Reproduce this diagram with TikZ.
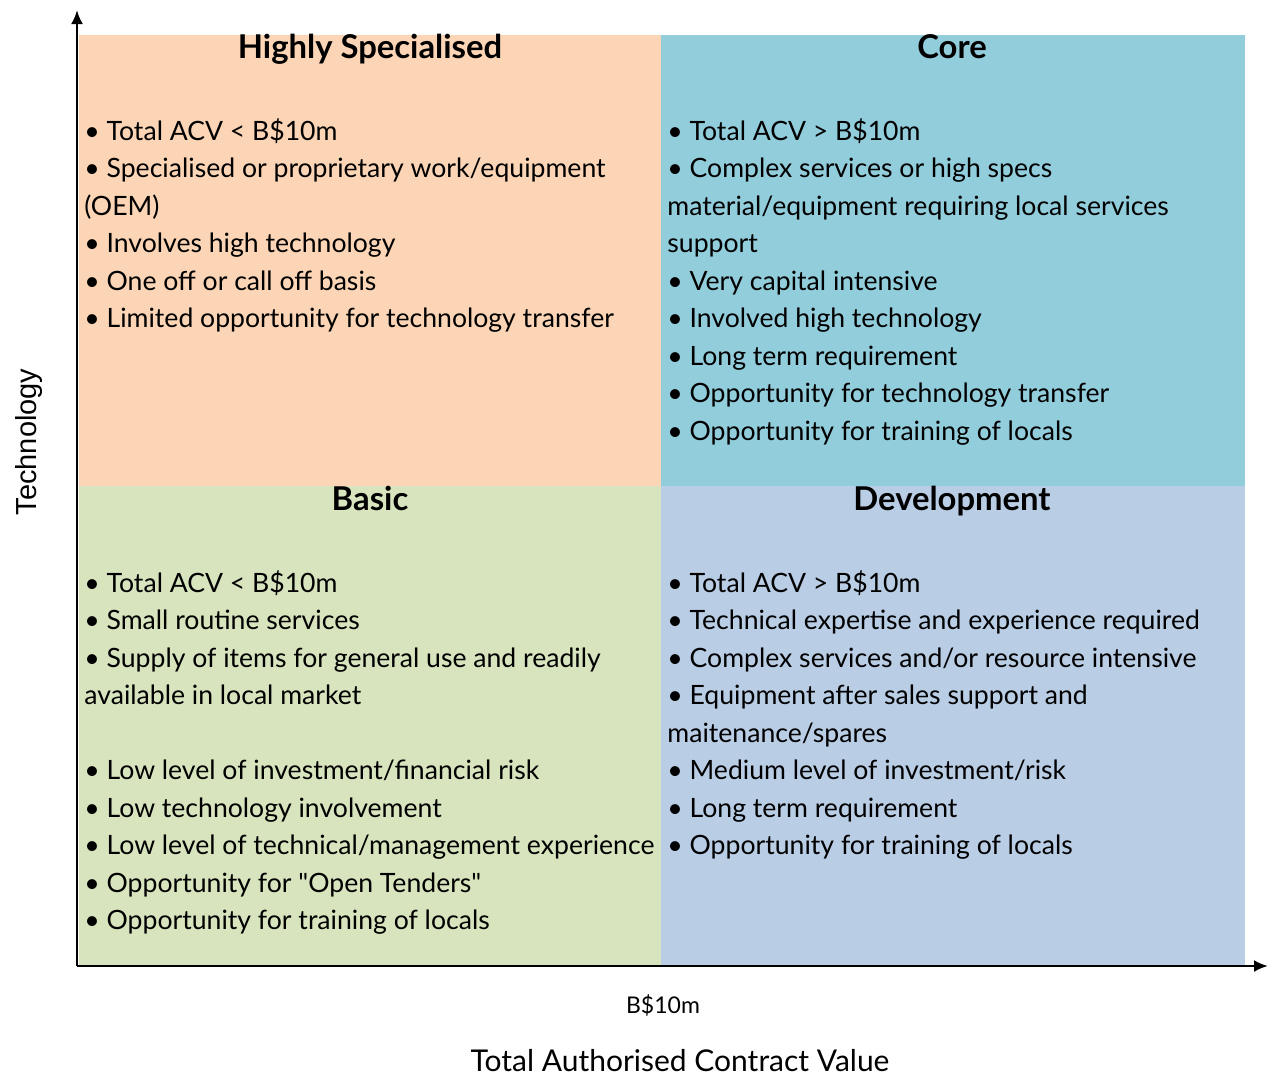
\documentclass[tikz,border=0pt]{standalone}
\usepackage{fontspec}
\setmainfont{Lato}
\newfontfamily\axisfont{Liberation Sans}
\usepackage{tikz}
\usetikzlibrary{positioning,arrows.meta}

\definecolor{hspec}{HTML}{FBD5B5}
\definecolor{core}{HTML}{92CDDC}
\definecolor{basic}{HTML}{D7E4BD}
\definecolor{devel}{HTML}{B9CDE5}

\begin{document}
\begin{tikzpicture}[
      x=0.5pt, y=-0.5pt,
      title/.style={anchor=base, inner sep=0pt, font=\fontsize{16.4}{18}\selectfont\bfseries},
      items/.style={anchor=base west, inner sep=0pt, align=left, font=\fontsize{13.3}{18.75}\selectfont},
      axis/.style={line width=1.3pt, -{Latex[length=7pt,width=6pt]}}
    ]
      \def\xl{79}
      \def\xm{661}
      \def\xr{1245}
      \def\yt{35}
      \def\ym{486}
      \def\yb{966}

      \useasboundingbox (0,0) rectangle (1273,1077);

      % Quadrants
      \fill[hspec] (\xl,\yt) rectangle (\xm,\ym);
      \fill[core] (\xm,\yt) rectangle (\xr,\ym);
      \fill[basic] (\xl,\ym) rectangle (\xm,\yb);

      \node[title] (hs) at (370,58) {Highly Specialised};
      \node[title] (co) at (952,58) {Core};
      \node[title] (ba) at (370,510) {Basic};

      % lists: base anchor sits on the last line
      \node[items] (hslist) at (84,327.5) {%
        \textbullet{} Total ACV < B\$10m\\
        \textbullet{} Specialised or proprietary work/equipment\\
        (OEM)\\
        \textbullet{} Involves high technology\\
        \textbullet{} One off or call off basis\\
        \textbullet{} Limited opportunity for technology transfer};

      \node[items] (colist) at (667,440) {%
        \textbullet{} Total ACV > B\$10m\\
        \textbullet{} Complex services or high specs\\
        material/equipment requiring local services\\
        support\\
        \textbullet{} Very capital intensive\\
        \textbullet{} Involved high technology\\
        \textbullet{} Long term requirement\\
        \textbullet{} Opportunity for technology transfer\\
        \textbullet{} Opportunity for training of locals};

      \node[items] (balist) at (84,929.5) {%
        \textbullet{} Total ACV < B\$10m\\
        \textbullet{} Small routine services\\
        \textbullet{} Supply of items for general use and readily\\
        available in local market\\[18.75pt]
        \textbullet{} Low level of investment/financial risk\\
        \textbullet{} Low technology involvement\\
        \textbullet{} Low level of technical/management experience\\
        \textbullet{} Opportunity for \textquotedbl Open Tenders\textquotedbl\\
        \textbullet{} Opportunity for training of locals};

      % last quadrant on top of the overflowing line
      \fill[devel] (\xm,\ym) rectangle (\xr,\yb);
      \node[title] (de) at (952,510) {Development};

      \node[items] (delist) at (667,854.5) {%
        \textbullet{} Total ACV > B\$10m\\
        \textbullet{} Technical expertise and experience required\\
        \textbullet{} Complex services and/or resource intensive\\
        \textbullet{} Equipment after sales support and\\
        maitenance/spares\\
        \textbullet{} Medium level of investment/risk\\
        \textbullet{} Long term requirement\\
        \textbullet{} Opportunity for training of locals};

      % Axes
      \coordinate (orig) at (77,\yb);
      \coordinate (xend) at (1268,\yb);
      \coordinate (yend) at (77,10);
      \draw[axis] (orig) -- (xend);
      \draw[axis] (orig) -- (yend);

      \node[anchor=base, inner sep=0pt, font=\fontsize{11.5}{13}\selectfont] (mid) at (663,1013) {B\$10m};
      \node[anchor=base, inner sep=0pt, font=\fontsize{15}{17}\selectfont] (xlab) at (680,1071) {Total Authorised Contract Value};
      \node[anchor=base, inner sep=0pt, rotate=90, font=\axisfont\fontsize{14.5}{16}\selectfont] (ylab) at (36,442) {Technology};
    \end{tikzpicture}
\end{document}
